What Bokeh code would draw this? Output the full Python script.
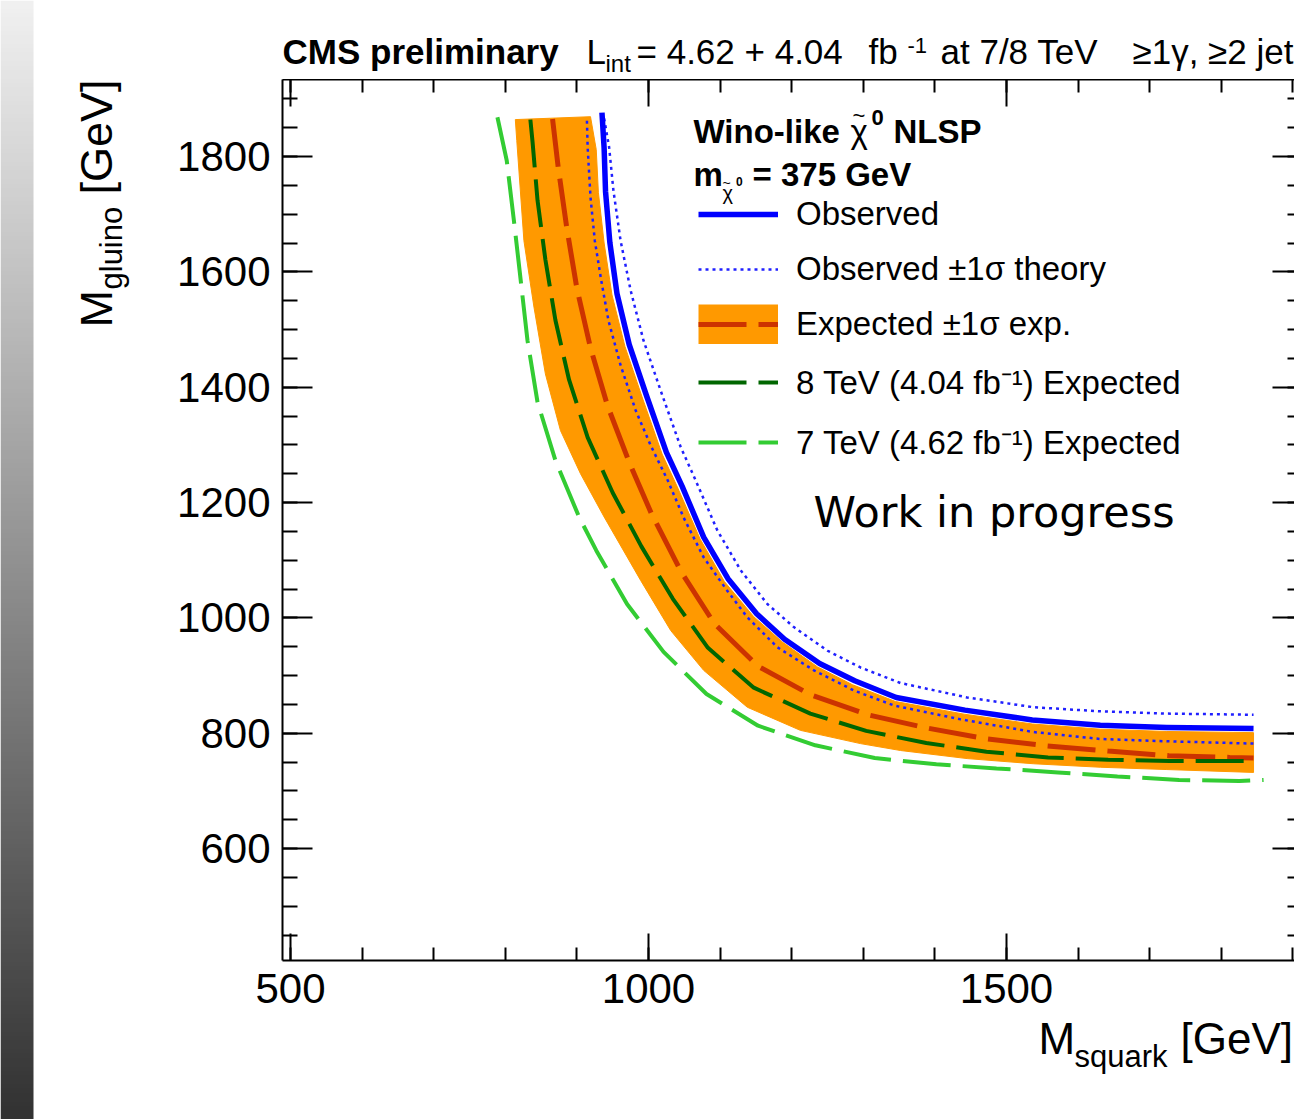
import numpy as np
from bokeh.plotting import figure
from bokeh.models import (Label, Legend, LegendItem, LinearAxis, FixedTicker,
                          Range1d, LinearColorMapper)
from bokeh.layouts import row, column
from bokeh.embed import file_html
from bokeh.resources import INLINE

# ---------------- data (GeV) ----------------
obs_x = [935, 938, 940, 946, 956, 973, 997, 1025, 1047, 1077, 1111, 1151, 1190, 1239, 1288, 1346, 1442, 1536, 1631, 1724, 1845]
obs_y = [1876, 1815, 1739, 1651, 1562, 1474, 1386, 1287, 1228, 1140, 1068, 1007, 963, 921, 891, 862, 840, 823, 814, 810, 808]

obs_up_x = [938, 945, 951, 961, 975, 993, 1017, 1045, 1066, 1096, 1129, 1166, 1203, 1250, 1296, 1352, 1445, 1538, 1631, 1724, 1845]
obs_up_y = [1866, 1816, 1741, 1654, 1568, 1481, 1394, 1296, 1238, 1152, 1082, 1024, 984, 943, 914, 887, 862, 845, 838, 834, 832]

obs_dn_x = [914, 915, 919, 925, 934, 944, 961, 982, 1003, 1027, 1049, 1077, 1110, 1138, 1180, 1231, 1287, 1343, 1436, 1538, 1631, 1724, 1845]
obs_dn_y = [1862, 1816, 1729, 1654, 1585, 1516, 1438, 1360, 1299, 1238, 1174, 1105, 1047, 1001, 949, 909, 874, 848, 824, 802, 790, 786, 782]

exp_x = [866, 874, 886, 900, 919, 943, 974, 1004, 1046, 1092, 1153, 1226, 1306, 1389, 1473, 1557, 1642, 1727, 1812, 1845]
exp_y = [1865, 1780, 1675, 1571, 1468, 1367, 1267, 1181, 1079, 990, 916, 867, 832, 809, 790, 778, 769, 761, 758, 757]

band_hi_x = [919, 927, 930, 938, 949, 967, 991, 1019, 1041, 1072, 1106, 1147, 1187, 1236, 1285, 1345, 1441, 1536, 1631, 1724, 1845]
band_hi_y = [1869, 1812, 1738, 1650, 1560, 1471, 1383, 1284, 1225, 1137, 1063, 1002, 958, 915, 884, 855, 833, 816, 807, 803, 801]

band_lo_x = [814, 816, 826, 840, 856, 877, 905, 938, 989, 1031, 1077, 1138, 1212, 1296, 1352, 1445, 1538, 1631, 1724, 1845]
band_lo_y = [1864, 1828, 1654, 1539, 1423, 1325, 1250, 1175, 1065, 978, 909, 845, 805, 782, 770, 756, 747, 741, 737, 732]

exp8_x = [835, 838, 845, 856, 870, 889, 915, 950, 990, 1034, 1083, 1147, 1226, 1304, 1388, 1472, 1558, 1642, 1728, 1812, 1845]
exp8_y = [1864, 1826, 1724, 1621, 1516, 1413, 1313, 1217, 1124, 1033, 948, 879, 834, 804, 783, 768, 758, 754, 752, 752, 752]

exp7_x = [789, 802, 812, 820, 831, 845, 870, 903, 927, 970, 1021, 1081, 1153, 1233, 1316, 1402, 1486, 1572, 1655, 1741, 1825, 1859]
exp7_y = [1868, 1793, 1689, 1602, 1481, 1374, 1273, 1175, 1117, 1024, 941, 868, 813, 779, 757, 746, 739, 732, 725, 719, 717, 719]

x_major_ticks = [500, 1000, 1500]
x_minor_ticks = list(range(500, 2000, 100))
y_major_ticks = [600, 800, 1000, 1200, 1400, 1600, 1800]
y_minor_ticks = list(range(450, 1950, 50))

legend_labels = ["Observed", "Observed \u00b11\u03c3 theory", "Expected \u00b11\u03c3 exp.",
                 "8 TeV (4.04 fb\u207b\u00b9) Expected", "7 TeV (4.62 fb\u207b\u00b9) Expected"]

# ---------------- layout (page pixels) ----------------
TOTAL_W, TOTAL_H = 1294, 1119
LEFT_W = 140                     # grey strip + y title
STRIP_W = 33
COL_W = TOTAL_W - LEFT_W
FRAME_L, FRAME_R, FRAME_T, FRAME_B = 282, 1294, 79, 960
MAIN_BOTTOM = 1012
X0, X1 = 488.83, 1902.2
Y0, Y1 = 405.9, 1933.5
FONT = "Liberation Sans"
MID = 0.3465   # (ascent - descent) / 2, in em


def dx(sx):
    return X0 + (sx - FRAME_L) * (X1 - X0) / (FRAME_R - FRAME_L)


def dy(sy):
    return Y1 - (sy - FRAME_T) * (Y1 - Y0) / (FRAME_B - FRAME_T)


def lab(fig, text, x, y, size, style="normal", font=FONT, angle=0.0):
    fig.add_layout(Label(x=x, y=y, text=text, text_font=font,
                         text_font_size=f"{size}px", text_font_style=style,
                         text_align="left", text_baseline="middle",
                         angle=angle, text_color="black"))


def bare(fig):
    fig.outline_line_color = None
    fig.background_fill_color = "white"
    fig.border_fill_color = "white"
    for g in fig.grid:
        g.visible = False


# ---------------- main plot ----------------
p = figure(width=COL_W, height=MAIN_BOTTOM - FRAME_T,
           x_range=Range1d(X0, X1), y_range=Range1d(Y0, Y1),
           output_backend="svg", toolbar_location=None,
           min_border_left=FRAME_L - LEFT_W, min_border_right=0,
           min_border_top=0, min_border_bottom=MAIN_BOTTOM - FRAME_B)
bare(p)


def style_axis(ax, major, minor, tin, mtin, line=True):
    ax.ticker = FixedTicker(ticks=major, minor_ticks=minor)
    ax.axis_line_color = "black" if line else None
    ax.axis_line_width = 2
    ax.major_tick_line_color = "black"
    ax.major_tick_line_width = 2
    ax.minor_tick_line_color = "black"
    ax.minor_tick_line_width = 2
    ax.major_tick_in = tin
    ax.major_tick_out = 0
    ax.minor_tick_in = mtin
    ax.minor_tick_out = 0
    ax.axis_label = None
    ax.major_label_text_font = FONT
    ax.major_label_text_font_size = "42px"
    ax.major_label_text_color = "black"


style_axis(p.xaxis[0], x_major_ticks, x_minor_ticks, 27, 13)
p.xaxis[0].major_label_standoff = 13
style_axis(p.yaxis[0], y_major_ticks, y_minor_ticks, 30, 15)
p.yaxis[0].major_label_standoff = 12

# unlabelled mirror axes: short ticks as one axis, long ticks as another
for minor, tin, line, side in [(x_minor_ticks, 13, True, "above"),
                               (x_major_ticks, 27, False, "above"),
                               (y_minor_ticks, 7, False, "right"),
                               (y_major_ticks, 22, False, "right")]:
    ax = LinearAxis()
    style_axis(ax, [], minor, 0, tin, line=line)
    ax.major_label_standoff = 0
    ax.axis_label_standoff = 0
    p.add_layout(ax, side)

band = p.patch(band_hi_x + band_lo_x[::-1], band_hi_y + band_lo_y[::-1],
               fill_color="#ff9900", line_color="#ff9900", line_width=1)
r7 = p.line(exp7_x, exp7_y, line_color="#33cc33", line_width=4, line_dash="48 12")
rexp = p.line(exp_x, exp_y, line_color="#cc3300", line_width=5, line_dash="48 12")
r8 = p.line(exp8_x, exp8_y, line_color="#006600", line_width=4, line_dash="48 12")
rdn = p.line(obs_dn_x, obs_dn_y, line_color="#2020ff", line_width=2.5, line_dash="3 4")
rup = p.line(obs_up_x, obs_up_y, line_color="#2020ff", line_width=2.5, line_dash="3 4")
robs = p.line(obs_x, obs_y, line_color="#0000ff", line_width=5.5, line_join="round")
# legend swatch for the band: a wide orange stroke, hidden in the plot itself
band_key = p.line(exp_x, exp_y, line_color="#ff9900", line_width=40, visible=False)

legend = Legend(items=[
    LegendItem(label=legend_labels[0], renderers=[robs]),
    LegendItem(label=legend_labels[1], renderers=[rup]),
    LegendItem(label=legend_labels[2], renderers=[band_key, rexp]),
    LegendItem(label=legend_labels[3], renderers=[r8]),
    LegendItem(label=legend_labels[4], renderers=[r7]),
], location=(698 - FRAME_L, FRAME_B - 464), padding=0, margin=0, spacing=15,
    glyph_width=80, glyph_height=40, label_standoff=18,
    label_text_font=FONT, label_text_font_size="33px", label_text_color="black",
    background_fill_alpha=0, border_line_alpha=0, inactive_fill_alpha=0)
p.add_layout(legend)

# legend header and watermark (inside the frame)
lab(p, "Wino-like", dx(693), dy(142 - MID * 33), 33, "bold")
lab(p, "\u03c7", dx(850), dy(142 - MID * 33), 33)
lab(p, "~", dx(852), dy(115), 22)
lab(p, "0", dx(871), dy(116.5), 22, "bold")
lab(p, "NLSP", dx(893), dy(142 - MID * 33), 33, "bold")
lab(p, "m", dx(693), dy(185 - MID * 33), 33, "bold")
lab(p, "\u03c7", dx(722), dy(199 - MID * 20), 20)
lab(p, "~", dx(722), dy(182), 14)
lab(p, "0", dx(735.5), dy(180.5), 12, "bold")
lab(p, "= 375 GeV", dx(752), dy(185 - MID * 33), 33, "bold")
lab(p, "Work in progress", dx(813), dy(511), 43, font="DejaVu Sans")

# ---------------- title strip above the frame ----------------
title_fig = figure(width=COL_W, height=FRAME_T, x_range=Range1d(FRAME_L, FRAME_R),
                   y_range=Range1d(0, FRAME_T), output_backend="svg", toolbar_location=None,
                   min_border_left=FRAME_L - LEFT_W, min_border_right=0,
                   min_border_top=0, min_border_bottom=0,
                   x_axis_location=None, y_axis_location=None)
bare(title_fig)


def tl(text, sx, baseline, size, style="normal"):
    lab(title_fig, text, sx, FRAME_T - (baseline - MID * size), size, style)


tl("CMS preliminary", 282, 63, 35, "bold")
tl("L", 586, 63, 35)
tl("int", 605, 71, 24)
tl("= 4.62 + 4.04", 636, 63, 35)
tl("fb", 868, 63, 35)
tl("-1", 907, 53, 22)
tl("at 7/8 TeV", 940, 63, 35)
tl("\u22651\u03b3, \u22652 jet", 1132, 63, 35)

# ---------------- x title below ----------------
xl_h = TOTAL_H - MAIN_BOTTOM
xlab_fig = figure(width=COL_W, height=xl_h, x_range=Range1d(FRAME_L, FRAME_R),
                  y_range=Range1d(0, xl_h), output_backend="svg", toolbar_location=None,
                  min_border_left=FRAME_L - LEFT_W, min_border_right=0,
                  min_border_top=0, min_border_bottom=0,
                  x_axis_location=None, y_axis_location=None)
bare(xlab_fig)


def xt(text, sx, baseline, size):
    lab(xlab_fig, text, sx, TOTAL_H - (baseline - MID * size), size)


xt("M", 1038, 1053, 44)
xt("squark", 1074, 1067, 31)
xt("[GeV]", 1180, 1053, 44)

# ---------------- grey strip + y title ----------------
left_fig = figure(width=LEFT_W, height=TOTAL_H, x_range=Range1d(0, LEFT_W),
                  y_range=Range1d(0, TOTAL_H), output_backend="svg", toolbar_location=None,
                  min_border=0, x_axis_location=None, y_axis_location=None)
bare(left_fig)
grays = [f"#{v:02x}{v:02x}{v:02x}" for v in range(256)]
mapper = LinearColorMapper(palette=grays, low=0, high=255)
shade = np.linspace(50, 240, 256).reshape(256, 1)
left_fig.image(image=[shade], x=0, y=0, dw=STRIP_W, dh=TOTAL_H, color_mapper=mapper)


def yt(text, baseline_x, start_y, size):
    lab(left_fig, text, baseline_x - MID * size, TOTAL_H - start_y, size, angle=np.pi / 2)


yt("M", 112, 327, 45)
yt("gluino", 122, 289, 31)
yt("[GeV]", 112, 194, 45)

layout = row(left_fig, column(title_fig, p, xlab_fig))
open("out.html", "w").write(file_html(layout, INLINE))
